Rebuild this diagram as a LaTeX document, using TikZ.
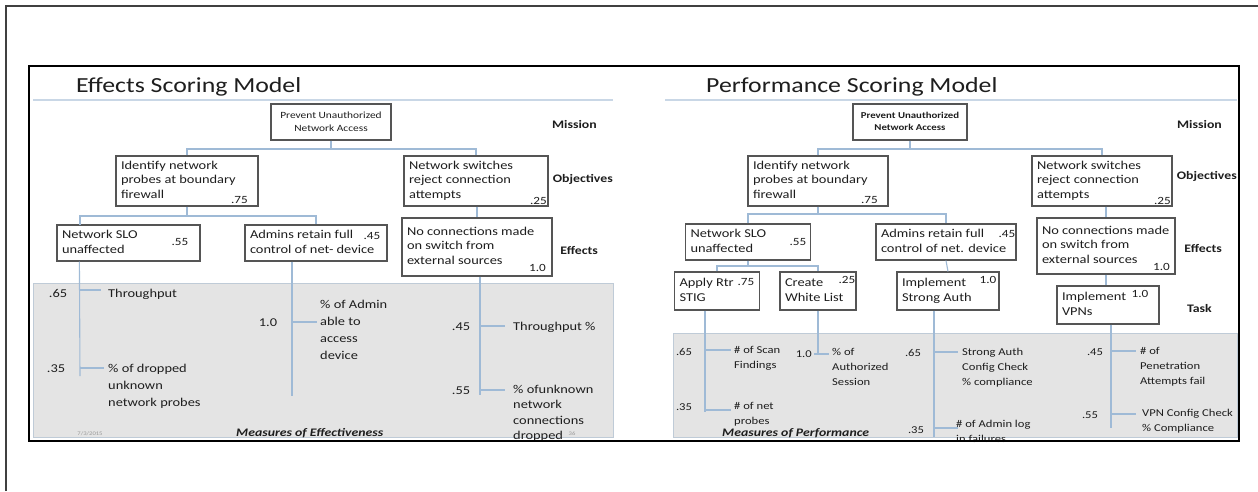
\documentclass[tikz,border=0pt]{standalone}
\usepackage{fontspec}
\setmainfont[FakeStretch=1.2]{Carlito}
\newcommand{\mls}[1]{\begin{tabular}[t]{@{}l@{}}#1\end{tabular}}
\newcommand{\mlc}[1]{\begin{tabular}[t]{@{}c@{}}#1\end{tabular}}
\newcommand{\bt}[2]{\makebox[#1][l]{\mls{#2}}}
\definecolor{boxc}{HTML}{555555}
\definecolor{cnc}{HTML}{9FBAD6}
\definecolor{grayf}{HTML}{E4E4E4}
\definecolor{grayb}{HTML}{BFCBD7}
\definecolor{txt}{HTML}{1E1E1E}
\definecolor{ulc}{HTML}{C9D7E6}
\definecolor{datec}{HTML}{9A9A9A}
\tikzset{
  bx/.style={draw=boxc, line width=1.2pt, fill=white, inner xsep=5pt, inner ysep=0pt,
             text=txt, font=\fontsize{12}{14.5}\selectfont},
  mbx/.style={bx, font=\fontsize{9.5}{13}\selectfont},
  lbl/.style={font=\bfseries\fontsize{11.5}{13}\selectfont, text=txt, inner sep=0pt, anchor=base east},
  num/.style={font=\fontsize{11}{13}\selectfont, text=txt, inner sep=0pt},
  numl/.style={font=\fontsize{12}{14}\selectfont, text=txt, inner sep=0pt, anchor=base},
  numr/.style={font=\fontsize{10.5}{13}\selectfont, text=txt, inner sep=0pt, anchor=base},
  mtl/.style={font=\fontsize{12}{17}\selectfont, text=txt, inner sep=0pt, anchor=base west},
  mtr/.style={font=\fontsize{10.5}{15}\selectfont, text=txt, inner sep=0pt, anchor=base west},
  cn/.style={draw=cnc, line width=1.1pt},
  ttl/.style={font=\fontsize{21.5}{25}\selectfont, text=txt, inner sep=0pt, anchor=base west},
  moe/.style={font=\bfseries\itshape\fontsize{11.5}{13}\selectfont, text=txt, inner sep=0pt, anchor=base west},
  tiny/.style={font=\fontsize{5.5}{7}\selectfont, text=datec, inner sep=0pt, anchor=base},
}
\begin{document}
\begin{tikzpicture}[x=1pt,y=-1pt]
\useasboundingbox (0,0) rectangle (1258,491);
\fill[white] (0,0) rectangle (1258,491);
% outer thin frame
\draw[line width=1.5pt, draw=black!75] (6,491) -- (6,6) -- (1258,6);
% gray measure areas
\draw[fill=grayf, draw=grayb, line width=1pt] (33,283) rectangle (613,437);
\draw[fill=grayf, draw=grayb, line width=1pt] (673,333) rectangle (1237,437);
% title underlines
\draw[draw=ulc, line width=1.4pt] (33,100) -- (613,100);
\draw[draw=ulc, line width=1.4pt] (665,100) -- (1237,100);
% titles
\node[ttl] (lt) at (76,92) {Effects Scoring Model};
\node[ttl] (rt) at (706,92) {Performance Scoring Model};

%================ LEFT =================
\node[mbx, minimum width=120pt, minimum height=36pt] (m1) at (331,122) {\mlc{Prevent Unauthorized\\Network Access}};
\node[bx, minimum width=142pt, minimum height=50pt] (o1) at (187,181) {\bt{132pt}{Identify network\\probes at boundary\\firewall}};
\node[bx, minimum width=144pt, minimum height=50pt] (o2) at (476,181) {\bt{134pt}{Network switches\\reject connection\\attempts}};
\node[bx, minimum width=143pt, minimum height=36pt] (e1) at (128.5,243) {\bt{133pt}{Network SLO\\unaffected}};
\node[bx, minimum width=142pt, minimum height=36pt] (e2) at (316,243) {\bt{132pt}{Admins retain full\\control of net- device}};
\node[bx, minimum width=150pt, minimum height=58pt] (e3) at (477,247) {\bt{140pt}{No connections made\\on switch from\\external sources}};

\node[num, anchor=base east] (n1) at (248,203) {.75};
\node[num, anchor=base east] (n2) at (547,204) {.25};
\node[num, anchor=base] (n3) at (180,245) {.55};
\node[num, anchor=base] (n4) at (372,239) {.45};
\node[num, anchor=base east] (n5) at (546,271) {1.0};

\node[lbl] (lm) at (597,128) {Mission};
\node[lbl] (lo) at (613,182) {Objectives};
\node[lbl] (le) at (598,254) {Effects};

\coordinate (j1) at (331,149);
\draw[cn] (m1.south) -- (j1);
\draw[cn] (o1.north) |- (j1) -| (o2.north);
\coordinate (j2) at (187,216);
\coordinate (e1t) at (80,225);
\draw[cn] (o1.south) -- (j2);
\draw[cn] (e1t) |- (j2) -| (e2.north);
\draw[cn] (e3.north |- o2.south) -- (e3.north);

% left measures
\coordinate (a1) at (80,376);
\draw[cn] ([xshift=23pt]e1.south west) -- (a1);
\draw[cn] (80,290) -- (101,290);
\draw[cn] (80,368) -- (104,368);
\node[numl] (v1) at (58,297) {.65};
\node[mtl] (t_a) at (108,297) {Throughput};
\node[numl] (v2) at (56,372) {.35};
\node[mtl] (t_b) at (108,372) {\mls{\% of dropped\\unknown\\network probes}};

\coordinate (a2) at (292,396);
\draw[cn] ([xshift=-24pt]e2.south) -- (a2);
\draw[cn] (292,322) -- (317,322);
\node[numl] (v3) at (268,326) {1.0};
\node[mtl] (t_c) at (320,308) {\mls{\% of Admin\\able to\\access\\device}};

\coordinate (a3) at (480,395);
\draw[cn] ([xshift=3pt]e3.south) -- (a3);
\draw[cn] (480,326) -- (505,326);
\draw[cn] (480,390) -- (505,390);
\node[numl] (v4) at (461,330) {.45};
\node[mtl] (t_d) at (513,330) {Throughput \%};
\node[numl] (v5) at (461,394) {.55};
\node[mtl, font=\fontsize{12}{15.5}\selectfont] (t_e) at (513,393) {\mls{\% ofunknown\\network\\connections\\dropped}};

\node[moe] (moe1) at (236,436) {Measures of Effectiveness};
\node[tiny] (dt) at (90,435) {7/3/2015};
\node[tiny] (pg) at (572,435) {36};

%================ RIGHT =================
\node[mbx, font=\bfseries\fontsize{9}{12.5}\selectfont, minimum width=114pt, minimum height=36pt] (m2) at (910,122) {\mlc{Prevent Unauthorized\\Network Access}};
\node[bx, minimum width=140pt, minimum height=50pt] (p1) at (818,181) {\bt{130pt}{Identify network\\probes at boundary\\firewall}};
\node[bx, minimum width=140pt, minimum height=50pt] (p2) at (1102,181) {\bt{130pt}{Network switches\\reject connection\\attempts}};
\node[bx, minimum width=125pt, minimum height=36pt] (q1) at (748,242) {\bt{115pt}{Network SLO\\unaffected}};
\node[bx, minimum width=140pt, minimum height=36pt] (q2) at (946,242) {\bt{130pt}{Admins retain full\\control of net. device}};
\node[bx, minimum width=138pt, minimum height=56pt] (q3) at (1106,246) {\bt{128pt}{No connections made\\on switch from\\external sources}};
\node[bx, minimum width=85pt, minimum height=38pt] (r1) at (717,291) {\bt{75pt}{Apply Rtr\\STIG}};
\node[bx, minimum width=76pt, minimum height=38pt] (r2) at (818,291) {\bt{66pt}{Create\\White List}};
\node[bx, minimum width=102pt, minimum height=38pt] (r3) at (948,291) {\bt{92pt}{Implement\\Strong Auth}};
\node[bx, minimum width=102pt, minimum height=38pt] (r4) at (1108,305) {\bt{92pt}{Implement\\VPNs}};

\node[num, anchor=base east] (w1) at (878,203) {.75};
\node[num, anchor=base east] (w2) at (1171,204) {.25};
\node[num, anchor=base] (w3) at (798,245) {.55};
\node[num, anchor=base] (w4) at (1007,237) {.45};
\node[num, anchor=base east] (w5) at (1170,270) {1.0};
\node[num, anchor=base] (w6) at (746,285) {.75};
\node[num, anchor=base] (w7) at (847,283) {.25};
\node[num, anchor=base] (w8) at (988,283) {1.0};
\node[num, anchor=base] (w9) at (1140,297) {1.0};

\node[lbl] (rm) at (1222,128) {Mission};
\node[lbl] (ro) at (1237,179) {Objectives};
\node[lbl] (re) at (1222,252) {Effects};
\node[lbl] (rk) at (1212,312) {Task};

\coordinate (k1) at (910,149);
\draw[cn] (m2.south) -- (k1);
\draw[cn] (p1.north) |- (k1) -| (p2.north);
\coordinate (k2) at (818,214);
\draw[cn] (p1.south) -- (k2);
\draw[cn] (q1.north) |- (k2) -| (q2.north);
\draw[cn] (q3.north |- p2.south) -- (q3.north);
\coordinate (k3) at (748,266);
\draw[cn] (q1.south) -- (k3);
\draw[cn] (r1.north) |- (k3) -| (r2.north);
\draw[cn] (q2.south) -- (r3.north);
\draw[cn] (q3.south) -- (q3.south |- r4.north);

% right measures
\coordinate (b1) at (705,412);
\draw[cn] ([xshift=-12pt]r1.south) -- (b1);
\draw[cn] (705,350) -- (731,350);
\draw[cn] (705,410) -- (731,410);
\node[numr] (u1) at (684,355) {.65};
\node[mtr] (s1) at (734,353) {\mls{\# of Scan\\Findings}};
\node[numr] (u2) at (684,410) {.35};
\node[mtr] (s2) at (734,409) {\mls{\# of net\\probes}};

\coordinate (b2) at (818,354);
\draw[cn] (r2.south) -- (b2);
\draw[cn] (814,354) -- (829,354);
\node[numr, anchor=base east] (u3) at (812,357) {1.0};
\node[mtr] (s3) at (832,355) {\mls{\% of\\Authorized\\Session}};

\coordinate (b4x) at (934,437);
\draw[cn] ([xshift=-14pt]r3.south) -- (b4x);
\draw[cn] (934,352) -- (958,352);
\draw[cn] (934,428) -- (958,428);
\node[numr] (u4) at (913,356) {.65};
\node[mtr] (s4) at (962,355) {\mls{Strong Auth\\Config Check\\\% compliance}};
\node[numr] (u5) at (916,433) {.35};
\node[mtr] (s5) at (956,427) {\mls{\# of Admin log\\in failures}};

\coordinate (b4) at (1111,428);
\draw[cn] ([xshift=3pt]r4.south) -- (b4);
\draw[cn] (1111,351) -- (1136,351);
\draw[cn] (1111,414) -- (1136,414);
\node[numr] (u6) at (1095,355) {.45};
\node[mtr] (s6) at (1140,354) {\mls{\# of\\Penetration\\Attempts fail}};
\node[numr] (u7) at (1090,418) {.55};
\node[mtr] (s7) at (1142,416) {\mls{VPN Config Check\\\% Compliance}};

\node[moe] (moe2) at (722,436) {Measures of Performance};

% main frame
\draw[line width=2.4pt, draw=black] (29,66) rectangle (1239,441);
\end{tikzpicture}
\end{document}
